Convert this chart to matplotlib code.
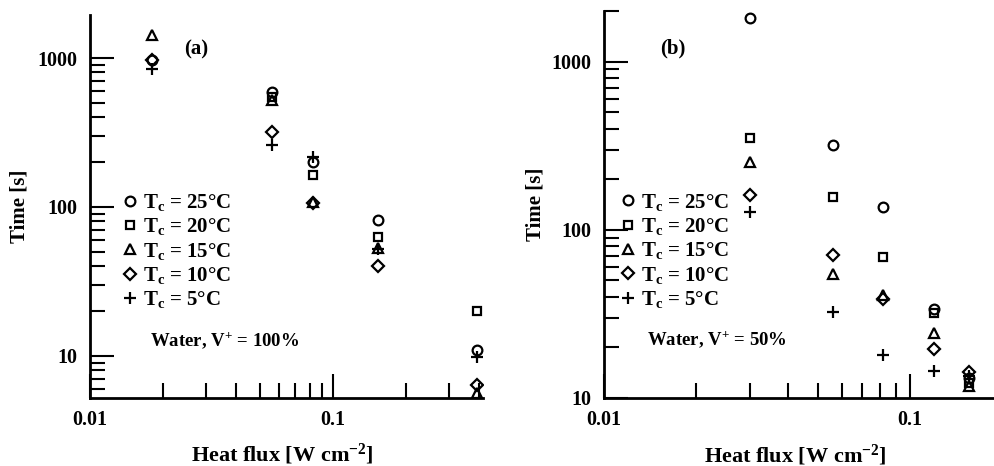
import matplotlib
matplotlib.use("Agg")
import matplotlib.pyplot as plt
from matplotlib.ticker import LogLocator, FuncFormatter, NullFormatter

plt.rcParams['font.family'] = ['Liberation Serif', 'DejaVu Serif']
plt.rcParams['font.weight'] = 'bold'
plt.rcParams['axes.labelweight'] = 'bold'
plt.rcParams['mathtext.fontset'] = 'custom'
plt.rcParams['mathtext.rm'] = 'Liberation Serif:bold'
plt.rcParams['mathtext.it'] = 'Liberation Serif:bold'
plt.rcParams['mathtext.bf'] = 'Liberation Serif:bold'

# series labels / markers (same for both panels)
labels = ["T$_\\mathrm{c}$ = 25°C", "T$_\\mathrm{c}$ = 20°C", "T$_\\mathrm{c}$ = 15°C",
          "T$_\\mathrm{c}$ = 10°C", "T$_\\mathrm{c}$ = 5°C"]
markers = ["o", "s", "^", "D", "+"]
nan = float('nan')

# panel (a): Water, V+ = 100%
flux_a = [0.018, 0.056, 0.083, 0.153, 0.392]
time_a = {
    "25": [975, 592, 200, 82, 11],
    "20": [nan, 547, 164, 63, 20],
    "15": [1427, 522, 108, 53, 5.6],
    "10": [970, 318, 106, 40, 6.4],
    "5":  [843, 261, 217, 52, 9.8],
}

# panel (b): Water, V+ = 50%
flux_b = [0.030, 0.056, 0.0815, 0.12, 0.156]
time_b = {
    "25": [1828, 321, 137, 34, 13.2],
    "20": [353, 157, 69, 32, 12.3],
    "15": [254, 55, 41, 24.4, 11.8],
    "10": [161, 71, 39, 19.5, 14.2],
    "5":  [128, 32.5, 18, 14.5, 13.5],
}
keys = ["25", "20", "15", "10", "5"]


def style_axes(ax, xlim, ylim):
    ax.set_xscale('log')
    ax.set_yscale('log')
    ax.set_xlim(*xlim)
    ax.set_ylim(*ylim)
    for s in ['top', 'right']:
        ax.spines[s].set_visible(False)
    for s in ['left', 'bottom']:
        ax.spines[s].set_linewidth(2)
    ax.xaxis.set_major_locator(LogLocator(base=10, numticks=10))
    ax.xaxis.set_minor_locator(LogLocator(base=10, subs=range(2, 10), numticks=10))
    ax.yaxis.set_major_locator(LogLocator(base=10, numticks=10))
    ax.yaxis.set_minor_locator(LogLocator(base=10, subs=range(2, 10), numticks=10))
    fmt = FuncFormatter(lambda v, _: f"{v:g}")
    ax.xaxis.set_major_formatter(fmt)
    ax.yaxis.set_major_formatter(fmt)
    ax.xaxis.set_minor_formatter(NullFormatter())
    ax.yaxis.set_minor_formatter(NullFormatter())
    ax.tick_params(which='major', direction='in', length=17, width=1.5, labelsize=14.5, pad=9)
    ax.tick_params(which='minor', direction='in', length=11, width=1.5)
    ax.set_ylabel("Time [s]", fontsize=15)
    ax.set_xlabel("Heat flux [W cm$^{-2}$]", fontsize=16)


def draw(ax, flux, times):
    for k, lab, m in zip(keys, labels, markers):
        ms = 9 if m == "+" else (6 if m in ("s", "D") else 7)
        ax.plot(flux, times[k], linestyle='none', marker=m, ms=ms,
                mfc='none', mec='k', mew=1.6, label=lab)


fig = plt.figure(figsize=(9.95, 4.66), dpi=100)

ax1 = fig.add_axes([0.0905, 0.146, 0.395, 0.822])
style_axes(ax1, (0.01, 0.414), (5.2, 1950))
draw(ax1, flux_a, time_a)
ax1.legend(loc='upper left', bbox_to_anchor=(0.06, 0.565), frameon=False, fontsize=15,
           handlelength=0.6, handletextpad=0.3, labelspacing=0.16, borderpad=0)
ax1.text(0.27, 0.909, "(a)", transform=ax1.transAxes, fontsize=15, ha='center', va='center')
ax1.text(0.153, 0.149, "Water, V$^{+}$ = 100%", transform=ax1.transAxes, fontsize=13.5,
         ha='left', va='center')
ax1.yaxis.set_label_coords(-0.155, 0.5)
ax1.xaxis.set_label_coords(0.49, -0.115)

ax2 = fig.add_axes([0.607, 0.146, 0.393, 0.830])
style_axes(ax2, (0.01, 0.19), (10, 2000))
draw(ax2, flux_b, time_b)
ax2.legend(loc='upper left', bbox_to_anchor=(0.02, 0.56), frameon=False, fontsize=15,
           handlelength=0.6, handletextpad=0.3, labelspacing=0.16, borderpad=0)
ax2.text(0.176, 0.904, "(b)", transform=ax2.transAxes, fontsize=15, ha='center', va='center')
ax2.text(0.11, 0.15, "Water, V$^{+}$ = 50%", transform=ax2.transAxes, fontsize=13.5,
         ha='left', va='center')
ax2.yaxis.set_label_coords(-0.15, 0.5)
ax2.xaxis.set_label_coords(0.49, -0.115)

fig.savefig("out.png", dpi=100)
